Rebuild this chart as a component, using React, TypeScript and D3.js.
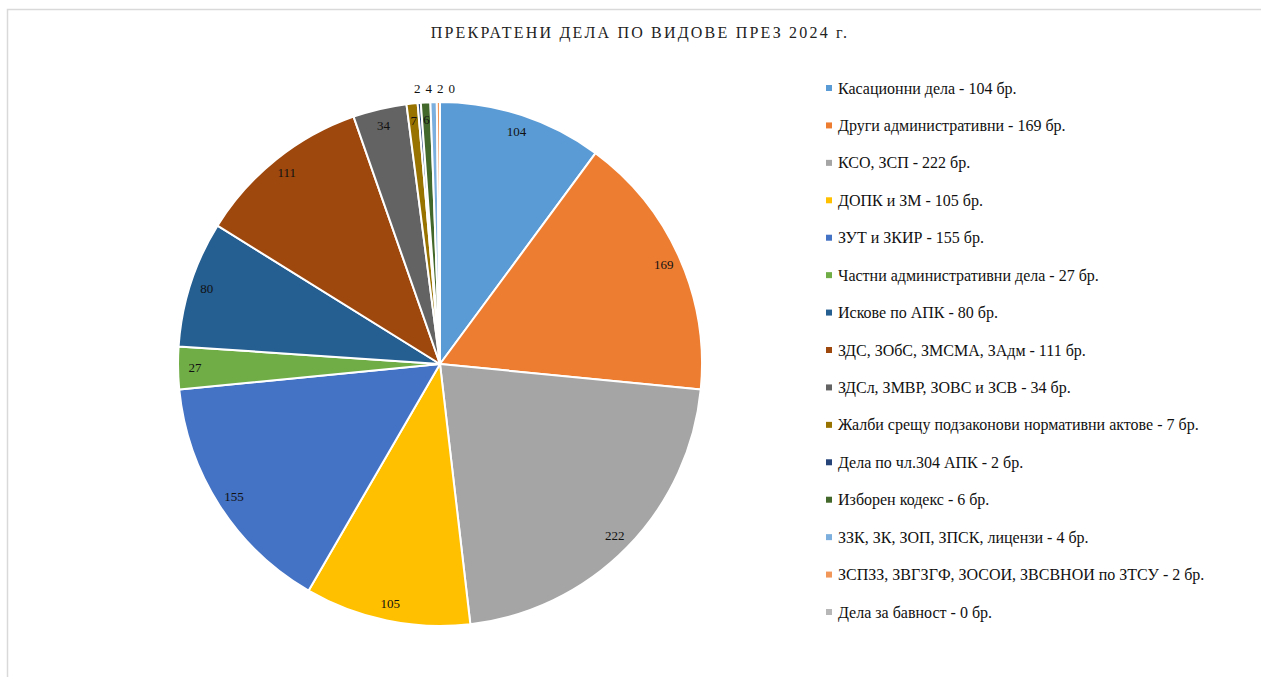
import React from "react";
import * as d3 from "d3";

const titleText = "ПРЕКРАТЕНИ  ДЕЛА ПО ВИДОВЕ ПРЕЗ 2024 г.";

const categories = [
  "Касационни дела",
  "Други административни",
  "КСО, ЗСП",
  "ДОПК и ЗМ",
  "ЗУТ и ЗКИР",
  "Частни административни дела",
  "Искове по АПК",
  "ЗДС, ЗОбС, ЗМСМА, ЗАдм",
  "ЗДСл, ЗМВР, ЗОВС и ЗСВ",
  "Жалби срещу  подзаконови нормативни актове",
  "Дела по чл.304 АПК",
  "Изборен кодекс",
  "ЗЗК, ЗК, ЗОП, ЗПСК, лицензи",
  "ЗСПЗЗ, ЗВГЗГФ, ЗОСОИ, ЗВСВНОИ по ЗТСУ",
  "Дела за бавност",
];

const values = [104, 169, 222, 105, 155, 27, 80, 111, 34, 7, 2, 6, 4, 2, 0];

const colors = [
  "#5B9BD5",
  "#ED7D31",
  "#A5A5A5",
  "#FFC000",
  "#4472C4",
  "#70AD47",
  "#255E91",
  "#9E480E",
  "#636363",
  "#997300",
  "#264478",
  "#43682B",
  "#7CAFDD",
  "#F1975A",
  "#B7B7B7",
];

const W = 1261;
const H = 677;
const cx = 440;
const cy = 364;
const R = 262;
const FONT = "'Liberation Serif', 'Times New Roman', serif";

export default function App() {
  const pie = d3
    .pie<number>()
    .sort(null)
    .value((d) => d)
    .startAngle(0)
    .endAngle(Math.PI * 2);
  const arcs = pie(values);
  const arcGen = d3.arc<d3.PieArcDatum<number>>().innerRadius(0).outerRadius(R);

  type Lab = { x: number; y: number; text: string; outside: boolean };
  const labels: Lab[] = arcs.map((a) => {
    const mid = (a.startAngle + a.endAngle) / 2;
    const outside = a.data < 5;
    const r = outside ? 276 : 245;
    return {
      x: cx + r * Math.sin(mid),
      y: cy - r * Math.cos(mid),
      text: String(a.data),
      outside,
    };
  });
  // spread the small outside labels evenly around their mean position
  const outs = labels.filter((l) => l.outside).sort((a, b) => a.x - b.x);
  const gap = 11.5;
  if (outs.length > 1) {
    const meanX = d3.mean(outs, (l) => l.x) as number;
    const start = meanX - ((outs.length - 1) * gap) / 2 + 2;
    outs.forEach((l, i) => {
      l.x = start + i * gap;
    });
  }

  const legendY = d3
    .scalePoint<number>()
    .domain(d3.range(categories.length))
    .range([88, 612]);

  return (
    <svg width={W} height={H} style={{ display: "block", position: "absolute", left: 0, top: 0 }}>
      <rect x={0} y={0} width={W} height={H} fill="#ffffff" />
      <path d={`M7.5,${H} V9.5 H${W}`} fill="none" stroke="#d9d9d9" strokeWidth={1.5} />
      <text
        x={640}
        y={38}
        textAnchor="middle"
        fontFamily={FONT}
        fontSize={16}
        letterSpacing={2.2}
        fill="#222"
      >
        {titleText}
      </text>
      <g transform={`translate(${cx},${cy})`}>
        {arcs.map((a, i) => (
          <path
            key={i}
            d={arcGen(a) || ""}
            fill={colors[i]}
            stroke="#ffffff"
            strokeWidth={2}
            strokeLinejoin="round"
          />
        ))}
      </g>
      {labels.map((l, i) => (
        <text
          key={i}
          x={l.x}
          y={l.y}
          textAnchor="middle"
          dominantBaseline="central"
          fontFamily={FONT}
          fontSize={13}
          fill="#111"
        >
          {l.text}
        </text>
      ))}
      <g>
        {categories.map((c, i) => {
          const y = legendY(i) as number;
          return (
            <g key={i}>
              <rect x={826} y={y - 3} width={6} height={6} fill={colors[i]} />
              <text
                x={838}
                y={y}
                dominantBaseline="central"
                fontFamily={FONT}
                fontSize={16}
                fill="#111"
              >
                {`${c} - ${values[i]} бр.`}
              </text>
            </g>
          );
        })}
      </g>
    </svg>
  );
}
